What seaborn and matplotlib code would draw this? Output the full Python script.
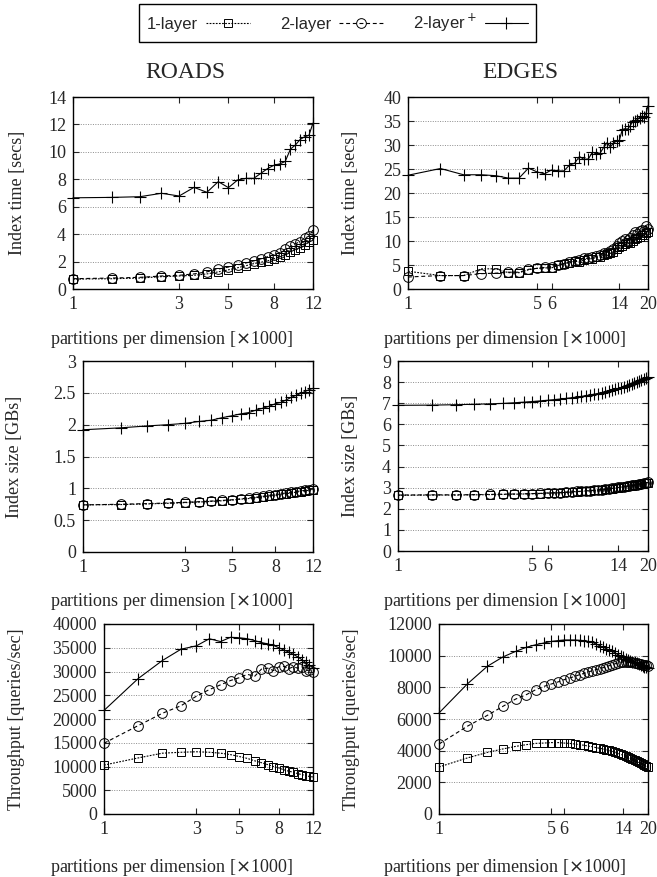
import matplotlib
matplotlib.use("Agg")
import matplotlib.pyplot as plt
import numpy as np
import pandas as pd
import seaborn as sns
from matplotlib.ticker import FixedLocator, FuncFormatter, NullLocator


W, H = 657, 877
SERIF = "Liberation Serif"
SANS = "Liberation Sans"

SERIES = ["1-layer", "2-layer", "2-layer$^+$"]

# partitions per dimension (x1000)
X_ROADS = [1, 1.5, 2, 2.5, 3, 3.5, 4, 4.5, 5, 5.5, 6, 6.5, 7, 7.5, 8, 8.5,
           9, 9.5, 10, 10.5, 11, 11.5, 12]
X_EDGES = [1, 1.5, 2, 2.5, 3, 3.5, 4, 4.5, 5, 5.5, 6, 6.5, 7, 7.5, 8, 8.5,
           9, 9.5, 10, 10.5, 11, 11.5, 12, 12.5, 13, 13.5, 14, 14.5, 15, 15.5,
           16, 16.5, 17, 17.5, 18, 18.5, 19, 19.5, 20]
XTICKS_ROADS = [1, 3, 5, 8, 12]
XTICKS_EDGES = [1, 5, 6, 14, 20]

# ROADS - index time [secs]
ROADS_TIME_1L = [0.72, 0.75, 0.80, 0.90, 0.95, 1.00, 1.10, 1.25, 1.40, 1.55, 1.70, 1.85,
                 1.95, 2.05, 2.20, 2.35, 2.50, 2.70, 2.85, 3.00, 3.20, 3.40, 3.60]
ROADS_TIME_2L = [0.75, 0.80, 0.85, 0.95, 1.00, 1.10, 1.25, 1.45, 1.60, 1.75, 1.90, 2.05,
                 2.20, 2.35, 2.50, 2.65, 2.90, 3.10, 3.30, 3.45, 3.70, 3.85, 4.30]
ROADS_TIME_2P = [6.65, 6.68, 6.73, 6.98, 6.78, 7.41, 7.05, 7.83, 7.39, 7.95, 8.07, 8.07,
                 8.44, 8.78, 9.02, 9.12, 9.30, 10.20, 10.50, 10.90, 11.10, 11.20, 12.10]

# ROADS - index size [GBs]
ROADS_SIZE_1L = [0.74, 0.745, 0.755, 0.765, 0.775, 0.785, 0.795, 0.805, 0.815, 0.83, 0.84, 0.855,
                 0.865, 0.88, 0.89, 0.905, 0.915, 0.93, 0.94, 0.95, 0.96, 0.97, 0.98]
ROADS_SIZE_2L = [0.74, 0.75, 0.76, 0.77, 0.78, 0.79, 0.80, 0.81, 0.82, 0.835, 0.85, 0.86,
                 0.875, 0.89, 0.90, 0.915, 0.93, 0.94, 0.95, 0.96, 0.97, 0.98, 0.99]
ROADS_SIZE_2P = [1.92, 1.95, 1.98, 2.00, 2.02, 2.05, 2.07, 2.11, 2.14, 2.17, 2.19, 2.23,
                 2.26, 2.29, 2.33, 2.35, 2.39, 2.43, 2.46, 2.49, 2.52, 2.55, 2.57]

# ROADS - throughput [queries/sec]
ROADS_THR_1L = [10300, 11800, 12800, 13000, 13100, 13000, 12800, 12500, 12100, 11700, 11200, 10800,
                10400, 10000, 9700, 9300, 9000, 8800, 8500, 8300, 8100, 7900, 7800]
ROADS_THR_2L = [14900, 18600, 21200, 22800, 24800, 26200, 27200, 28100, 28700, 29400, 29000, 30500,
                30700, 30200, 31000, 31100, 30600, 31000, 30700, 31000, 30200, 30300, 29900]
ROADS_THR_2P = [21800, 28500, 32300, 34700, 35400, 36900, 36300, 37200, 37100, 36900, 36500, 36100,
                35800, 35500, 35000, 34500, 34100, 33600, 33100, 32500, 31900, 31300, 30800]

# EDGES - index time [secs]
EDGES_TIME_1L = [3.7, 2.8, 2.8, 4.2, 4.2, 3.4, 3.4, 4.0, 4.3, 4.4,
                 4.4, 4.9, 5.2, 5.5, 5.8, 5.6, 6.1, 6.3, 6.3, 6.6,
                 6.7, 7.0, 7.2, 7.5, 7.8, 8.3, 8.7, 9.0, 9.4, 9.8,
                 9.6, 10.0, 10.4, 10.6, 10.9, 11.2, 11.3, 11.6, 11.9]
EDGES_TIME_2L = [2.5, 2.8, 2.8, 3.2, 3.3, 3.5, 3.5, 4.1, 4.3, 4.5,
                 4.6, 5.1, 5.3, 5.7, 5.9, 6.0, 6.4, 6.4, 6.6, 6.8,
                 7.1, 7.4, 7.6, 8.0, 8.4, 9.0, 9.6, 10.0, 10.4, 10.2,
                 10.6, 11.2, 11.8, 11.4, 12.0, 12.3, 12.1, 13.2, 12.6]
EDGES_TIME_2P = [23.7, 25.1, 23.8, 23.8, 23.6, 23.1, 23.1, 25.2, 24.4, 24.0,
                 24.8, 24.6, 24.6, 25.8, 26.2, 27.6, 27.0, 27.1, 28.5, 28.2,
                 28.3, 29.5, 30.5, 29.6, 30.4, 30.8, 31.0, 33.2, 33.4, 33.3,
                 34.0, 34.8, 35.0, 35.3, 35.6, 36.0, 35.9, 36.6, 38.2]

# EDGES - index size [GBs]
EDGES_SIZE_1L = [2.64, 2.65, 2.65, 2.66, 2.67, 2.68, 2.69, 2.70, 2.71, 2.72,
                 2.74, 2.75, 2.76, 2.78, 2.79, 2.81, 2.82, 2.84, 2.85, 2.87,
                 2.89, 2.90, 2.92, 2.94, 2.96, 2.98, 3.00, 3.02, 3.04, 3.06,
                 3.08, 3.10, 3.12, 3.14, 3.16, 3.18, 3.20, 3.22, 3.24]
EDGES_SIZE_2L = [2.65, 2.66, 2.66, 2.67, 2.68, 2.69, 2.70, 2.71, 2.72, 2.73,
                 2.75, 2.76, 2.77, 2.79, 2.80, 2.82, 2.83, 2.85, 2.86, 2.88,
                 2.90, 2.91, 2.93, 2.95, 2.97, 2.99, 3.01, 3.03, 3.05, 3.07,
                 3.09, 3.11, 3.13, 3.15, 3.17, 3.19, 3.21, 3.23, 3.25]
EDGES_SIZE_2P = [6.90, 6.91, 6.93, 6.95, 6.97, 6.99, 7.02, 7.05, 7.08, 7.11,
                 7.14, 7.17, 7.20, 7.23, 7.26, 7.29, 7.32, 7.36, 7.39, 7.43,
                 7.46, 7.50, 7.54, 7.58, 7.62, 7.66, 7.70, 7.74, 7.78, 7.83,
                 7.87, 7.92, 7.96, 8.01, 8.06, 8.10, 8.15, 8.20, 8.25]

# EDGES - throughput [queries/sec]
EDGES_THR_1L = [2970, 3540, 3890, 4110, 4270, 4380, 4460, 4480, 4510, 4510,
                4480, 4460, 4420, 4380, 4340, 4290, 4250, 4190, 4150, 4110,
                4060, 4020, 3960, 3890, 3830, 3770, 3710, 3640, 3580, 3520,
                3450, 3390, 3330, 3260, 3200, 3160, 3090, 3050, 2990]
EDGES_THR_2L = [4420, 5540, 6230, 6800, 7260, 7540, 7850, 8060, 8210, 8340,
                8480, 8590, 8690, 8800, 8880, 8970, 9050, 9120, 9180, 9240,
                9310, 9370, 9430, 9490, 9540, 9580, 9600, 9620, 9620, 9600,
                9580, 9550, 9520, 9470, 9450, 9430, 9410, 9390, 9370]
EDGES_THR_2P = [6380, 8210, 9330, 9920, 10270, 10530, 10690, 10800, 10900, 10950,
                10990, 10990, 10990, 10970, 10950, 10900, 10840, 10740, 10630, 10530,
                10440, 10360, 10270, 10170, 10060, 10000, 9920, 9810, 9750, 9680,
                9620, 9580, 9520, 9470, 9430, 9370, 9300, 9260, 9220]

STYLES = {
    "1-layer": dict(marker="s", linestyle=(0, (1.6, 1.2)), markersize=6.0, markeredgewidth=0.7),
    "2-layer": dict(marker="o", linestyle=(0, (3.5, 2.5)), markersize=7.0, markeredgewidth=0.7),
    "2-layer$^+$": dict(marker="+", linestyle="-", markersize=8.5, markeredgewidth=0.8),
}
FS = 13


def rect(left, top, right, bottom):
    return [left / W, 1 - bottom / H, (right - left) / W, (bottom - top) / H]


def panel(fig, box, x, ys, xticks, ymax, ystep, ylabel, ylab_x):
    ax = fig.add_axes(rect(*box))
    for name, y in zip(SERIES, ys):
        df = pd.DataFrame({"x": x, "y": y})
        sns.lineplot(data=df, x="x", y="y", ax=ax, color="black", lw=0.8,
                     markerfacecolor="none", markeredgecolor="black",
                     errorbar=None, label=name, legend=False, clip_on=False,
                     **STYLES[name])
    if ax.get_legend() is not None:
        ax.get_legend().remove()
    ax.set_xscale("log")
    ax.set_xlim(x[0], x[-1])
    ax.set_ylim(0, ymax)
    ax.xaxis.set_major_locator(FixedLocator(xticks))
    ax.xaxis.set_minor_locator(NullLocator())
    ax.xaxis.set_major_formatter(FuncFormatter(lambda v, _: f"{v:g}"))
    yt = np.arange(0, ymax + ystep / 2, ystep)
    ax.set_yticks(yt)
    ax.yaxis.set_major_formatter(FuncFormatter(lambda v, _: f"{v:g}"))
    ax.yaxis.grid(True, linestyle=(0, (1, 1.5)), color="#8c8c8c", lw=0.7)
    ax.xaxis.grid(False)
    ax.tick_params(direction="in", length=4, width=0.8, top=True, right=True,
                   labelsize=FS, pad=5)
    for lab in ax.get_xticklabels() + ax.get_yticklabels():
        lab.set_fontfamily(SERIF)
    for sp in ax.spines.values():
        sp.set_visible(True)
        sp.set_linewidth(1.0)
        sp.set_color("black")
    ax.set_xlabel("")
    ax.set_ylabel("")
    top, bottom = box[1], box[3]
    fig.text(ylab_x / W, 1 - (top + bottom) / 2 / H, ylabel, rotation=90,
             ha="center", va="center", fontsize=FS, family=SERIF)
    return ax


sns.set_theme(style="ticks")
plt.rcParams["font.family"] = [SERIF, "DejaVu Sans"]
plt.rcParams["mathtext.fontset"] = "dejavusans"

fig = plt.figure(figsize=(W / 100, H / 100), dpi=100, facecolor="white")

xlab = "partitions per dimension [$\\times$1000]"

ax0 = panel(fig, (73, 97, 313, 289), X_ROADS, [ROADS_TIME_1L, ROADS_TIME_2L, ROADS_TIME_2P],
            XTICKS_ROADS, 14, 2, "Index time [secs]", 18)
panel(fig, (408, 97, 648, 289), X_EDGES, [EDGES_TIME_1L, EDGES_TIME_2L, EDGES_TIME_2P],
      XTICKS_EDGES, 40, 5, "Index time [secs]", 351)
panel(fig, (83, 361, 313, 552), X_ROADS, [ROADS_SIZE_1L, ROADS_SIZE_2L, ROADS_SIZE_2P],
      XTICKS_ROADS, 3, 0.5, "Index size [GBs]", 15)
panel(fig, (398, 361, 648, 551), X_EDGES, [EDGES_SIZE_1L, EDGES_SIZE_2L, EDGES_SIZE_2P],
      XTICKS_EDGES, 9, 1, "Index size [GBs]", 351)
panel(fig, (104, 624, 313, 814), X_ROADS, [ROADS_THR_1L, ROADS_THR_2L, ROADS_THR_2P],
      XTICKS_ROADS, 40000, 5000, "Throughput [queries/sec]", 17)
panel(fig, (439, 624, 648, 814), X_EDGES, [EDGES_THR_1L, EDGES_THR_2L, EDGES_THR_2P],
      XTICKS_EDGES, 12000, 2000, "Throughput [queries/sec]", 352)

for y in (339, 602, 867):
    fig.text(172 / W, 1 - y / H, xlab, ha="center", va="center", fontsize=FS, family=SERIF)
    fig.text(505 / W, 1 - y / H, xlab, ha="center", va="center", fontsize=FS, family=SERIF)

fig.text(185 / W, 1 - 72 / H, "ROADS", ha="center", va="center", fontsize=17, family=SERIF)
fig.text(520 / W, 1 - 72 / H, "EDGES", ha="center", va="center", fontsize=17, family=SERIF)

handles, labels = ax0.get_legend_handles_labels()
leg = fig.legend(handles, labels, loc="center", bbox_to_anchor=(337.5 / W, 1 - 23 / H),
                 ncol=3, markerfirst=False, frameon=True, fancybox=False,
                 edgecolor="black", framealpha=1, handlelength=2.6, columnspacing=1.8,
                 handletextpad=0.5, borderpad=0.5, numpoints=1,
                 prop={"family": [SANS, "DejaVu Sans"], "size": 12})
leg.get_frame().set_linewidth(1.0)

fig.savefig("out.png", dpi=100, facecolor="white")
